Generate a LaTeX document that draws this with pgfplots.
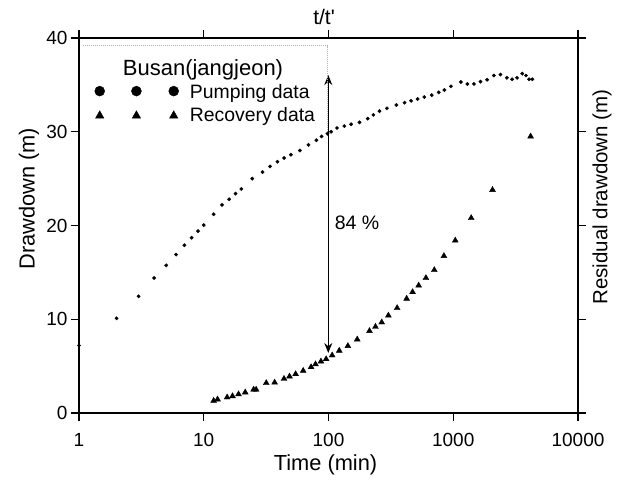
\documentclass[border=0pt]{standalone}
\usepackage{fontspec}
\setmainfont{Liberation Sans}
\usepackage{pgfplots}
\pgfplotsset{compat=1.18}
\usetikzlibrary{arrows.meta}
\pgfplotstableread{
t s
1 7.2
2 10.1
3 12.45
4 14.4
5 15.75
6 16.9
7 17.9
8 18.7
9 19.4
10 20.05
12 21.2
14 22.2
16 22.8
18 23.4
20 23.9
24.5 25.0
29.6 25.7
34 26.3
39 26.8
44 27.2
50 27.55
59 28.0
69 28.6
80 29.1
88 29.5
98 29.8
105 30.0
117 30.4
134 30.6
152 30.8
177 31.0
206 31.4
229 31.8
256 32.2
294 32.5
350 32.85
407 33.1
459 33.3
518 33.5
586 33.7
672 33.9
765 34.2
849 34.45
959 34.85
1151 35.3
1298 35.1
1465 35.1
1654 35.35
1870 35.55
2113 36.0
2390 36.1
2690 35.75
2960 35.6
3250 35.75
3570 36.2
3830 36.0
4050 35.6
4300 35.6
}\pumping
\pgfplotstableread{
t s
12.0 1.3
12.9 1.45
15.4 1.67
17 1.8
19 2.0
21.5 2.2
25.1 2.5
26.3 2.5
31.7 3.2
37 3.25
44 3.65
48.7 3.9
54.5 4.15
62.7 4.5
72.5 4.9
78.7 5.2
87 5.5
95.7 5.75
107 6.15
122 6.65
143 7.15
170 7.85
213 8.75
238 9.2
267 9.67
302 10.4
355 11.2
423 12.2
472 12.9
528 13.6
604 14.4
705 15.25
842 16.75
1038 18.4
1393 20.8
2064 23.8
4170 29.5
}\recovery
\begin{document}
\begin{tikzpicture}
\path[use as bounding box] (-79pt,-64pt) rectangle (542pt,413pt);
\begin{axis}[
  at={(0pt,0pt)}, anchor=south west,
  scale only axis, width=499pt, height=375pt,
  xmode=log, xmin=1, xmax=10000, ymin=0, ymax=40,
  xtick={1,10,100,1000,10000}, xticklabels={1,10,100,1000,10000},
  xminorticks=false,
  ytick={0,10,20,30,40}, yticklabels={0,10,20,30,40},
  tick align=outside, major tick length=8pt,
  axis line style={line width=1.2pt},
  every tick/.style={black, line width=1.2pt},
  tick label style={font=\fontsize{19}{22}\selectfont},
  xticklabel style={yshift=-9pt},
  label style={font=\fontsize{21.8}{25}\selectfont},
  xlabel={Time (min)}, ylabel={Drawdown (m)},
  xlabel style={at={(axis description cs:0.494,0)}, anchor=base, yshift=-57pt},
  ylabel style={at={(axis description cs:-0.1,0.571)}, anchor=center},
  clip=false,
  legend style={at={(axis description cs:0.0307,0.877)}, anchor=north west,
    draw=none, fill=none, inner sep=0pt, row sep=7.7pt,
    font=\fontsize{19.4}{22}\selectfont,
    nodes={inner sep=0pt},
    /tikz/every odd column/.append style={column sep=11pt}},
  legend cell align=left,
]
\addplot[only marks, mark=*, mark size=1.7pt, black,
  legend image code/.code={
    \fill[black,solid] (0pt,1pt) circle (5pt);
    \fill[black,solid] (36.7pt,1pt) circle (5pt);
    \fill[black,solid] (74pt,1pt) circle (5pt);}]
  table[x=t,y=s]{\pumping};
\addlegendentry{Pumping data}
\addplot[only marks, mark=triangle*, mark size=3.4pt, black,
  legend image code/.code={
    \fill[black,solid] (-4.2pt,-2.8pt) -- (4.2pt,-2.8pt) -- (0pt,4.6pt) -- cycle;
    \fill[black,solid] (32.5pt,-2.8pt) -- (40.9pt,-2.8pt) -- (36.7pt,4.6pt) -- cycle;
    \fill[black,solid] (69.8pt,-2.8pt) -- (78.2pt,-2.8pt) -- (74pt,4.6pt) -- cycle;}]
  table[x=t,y=s]{\recovery};
\addlegendentry{Recovery data}
\draw[line width=1.2pt, -{Stealth[length=10pt,width=8pt]}] (axis cs:99.6,20) -- (axis cs:99.6,36.05);
\draw[line width=1.2pt, -{Stealth[length=10pt,width=8pt]}] (axis cs:99.6,20) -- (axis cs:99.6,6.4);
\node[anchor=base west, inner sep=0pt, font=\fontsize{19.5}{22}\selectfont] at (axis cs:112,19.55) {84 \%};
\node[anchor=base, inner sep=0pt, font=\fontsize{22}{25}\selectfont] at (axis description cs:0.2485,0.9013) {Busan(jangjeon)};
\draw[gray!60, densely dotted, line width=1pt] (axis description cs:0.008,0.9787) -- (axis description cs:0.4985,0.9787) -- (axis description cs:0.4985,0.736);
\node[anchor=base, inner sep=0pt, font=\fontsize{21}{24}\selectfont] at (axis description cs:0.491,1.0347) {t/t\textquotesingle};
\node[anchor=center, rotate=90, inner sep=0pt, font=\fontsize{20.5}{24}\selectfont] at (axis description cs:1.048,0.576) {Residual drawdown (m)};
\end{axis}
\end{tikzpicture}
\end{document}
